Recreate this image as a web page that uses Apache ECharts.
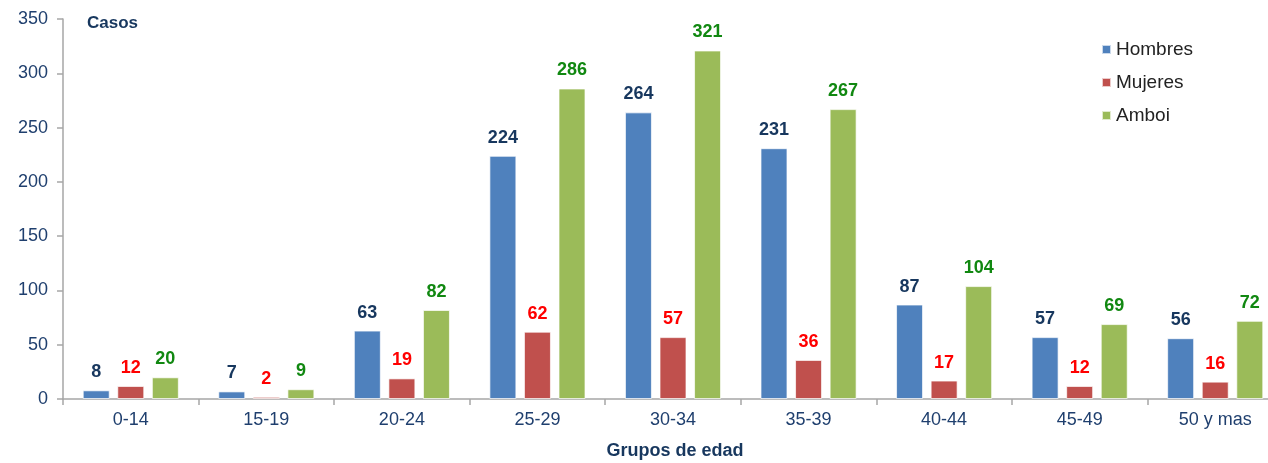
<!DOCTYPE html>
<html>
<head>
<meta charset="utf-8">
<script src="https://cdn.jsdelivr.net/npm/echarts@6/dist/echarts.min.js"></script>
<style>
  html, body { margin: 0; padding: 0; background: #fff; overflow: hidden; }
  #chart { width: 1290px; height: 463px; }
</style>
</head>
<body>
<div id="chart"></div>
<script>
// age groups and case counts
const grupos = ['0-14', '15-19', '20-24', '25-29', '30-34', '35-39', '40-44', '45-49', '50 y mas']
const hombres = [8, 7, 63, 224, 264, 231, 87, 57, 56]
const mujeres = [12, 2, 19, 62, 57, 36, 17, 12, 16]
const amboi = [20, 9, 82, 286, 321, 267, 104, 69, 72]

const font = '"Liberation Sans", Arial, sans-serif'

const makeSeries = (name, data, color, labelColor) => ({
  name,
  type: 'bar',
  data,
  barWidth: 27,
  barGap: '28%',
  itemStyle: { color, borderColor: 'rgba(255,255,255,0.7)', borderWidth: 1 },
  label: {
    show: true,
    position: 'top',
    distance: 9,
    color: labelColor,
    fontFamily: font,
    fontWeight: 'bold',
    fontSize: 18,
  },
})

const chart = echarts.init(document.getElementById('chart'))
chart.setOption({
  backgroundColor: '#fff',
  animation: false,
  textStyle: { fontFamily: font },
  grid: { left: 63, top: 19, width: 1220, height: 380, containLabel: false },
  title: [
    {
      text: 'Casos',
      left: 82,
      top: 10,
      textStyle: { fontFamily: font, fontSize: 17, fontWeight: 'bold', color: '#17375E' },
    },
    {
      text: 'Grupos de edad',
      left: 675,
      textAlign: 'center',
      top: 441,
      padding: 0,
      textStyle: { fontFamily: font, fontSize: 18, fontWeight: 'bold', color: '#17375E', lineHeight: 20 },
    },
  ],
  legend: {
    orient: 'vertical',
    left: 1096,
    top: 35,
    itemWidth: 9,
    itemHeight: 9,
    itemGap: 14,
    icon: 'rect',
    textStyle: { fontFamily: font, fontSize: 19, color: '#222' },
    data: ['Hombres', 'Mujeres', 'Amboi'],
  },
  xAxis: {
    type: 'category',
    data: grupos,
    axisLine: { lineStyle: { color: '#A6A6A6', width: 1.5 } },
    axisTick: { show: true, length: 6, lineStyle: { color: '#A6A6A6', width: 1.5 } },
    axisLabel: { color: '#1F3F6E', fontSize: 18, fontFamily: font, margin: 12 },
  },
  yAxis: {
    type: 'value',
    min: 0,
    max: 350,
    interval: 50,
    axisLine: { show: true, lineStyle: { color: '#A6A6A6', width: 1.5 } },
    axisTick: { show: true, length: 6, lineStyle: { color: '#A6A6A6', width: 1.5 } },
    splitLine: { show: false },
    axisLabel: { color: '#1F3F6E', fontSize: 18, fontFamily: font, margin: 15 },
  },
  series: [
    makeSeries('Hombres', hombres, '#4F81BD', '#17375E'),
    makeSeries('Mujeres', mujeres, '#C0504D', '#FF0000'),
    makeSeries('Amboi', amboi, '#9BBB59', '#118811'),
  ],
})
</script>
</body>
</html>
